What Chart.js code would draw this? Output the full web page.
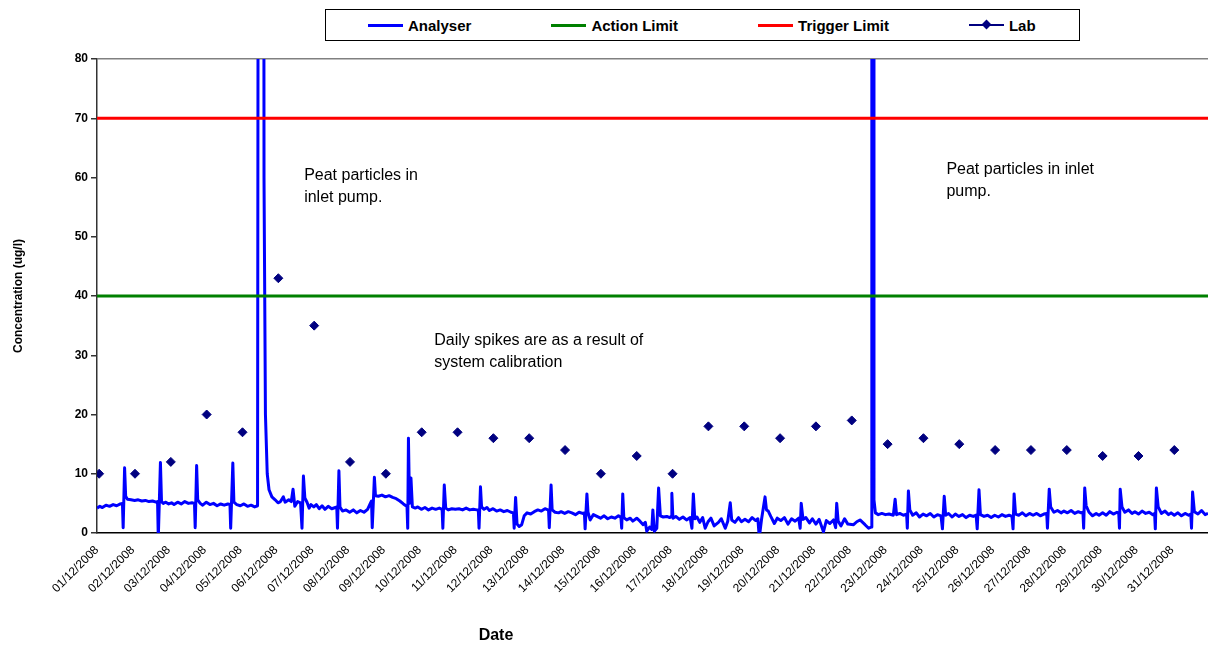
<!DOCTYPE html>
<html lang="en">
  <head>
    <meta charset="UTF-8" />
    <meta name="viewport" content="width=device-width, initial-scale=1.0" />
    <title>Analyser vs Lab - December 2008</title>
    <script src="https://cdn.jsdelivr.net/npm/chart.js@4.4.0/dist/chart.umd.min.js"></script>
    <style>
      body { margin: 0; background: #fff; font-family: "Liberation Sans", Arial, sans-serif; }
      .chart { position: relative; width: 1208px; height: 652px; }
      #legend {
        position: absolute; left: 325px; top: 9px; width: 755px; height: 32px;
        box-sizing: border-box; border: 1px solid #000; background: #fff;
        display: flex; align-items: center; padding-left: 42px;
        font-weight: bold; font-size: 15px; color: #000; white-space: nowrap;
      }
      .item { display: flex; align-items: center; flex-shrink: 0; margin-right: 80px; }
      .item:last-child { margin-right: 0; }
      .swatch { position: relative; width: 35px; height: 3px; margin-right: 5px; flex-shrink: 0; }
      .diamond {
        position: absolute; left: 14px; top: -3px; width: 7px; height: 7px;
        background: #000080; transform: rotate(45deg);
      }
    </style>
  </head>
  <body>
    <div class="chart">
      <canvas id="myChart" width="1208" height="652"></canvas>
      <div id="legend"></div>
    </div>
    <script>
      // x axis: days since 01/12/2008 00:00
      const dateLabels = [
        '01/12/2008', '02/12/2008', '03/12/2008', '04/12/2008', '05/12/2008', '06/12/2008',
        '07/12/2008', '08/12/2008', '09/12/2008', '10/12/2008', '11/12/2008', '12/12/2008',
        '13/12/2008', '14/12/2008', '15/12/2008', '16/12/2008', '17/12/2008', '18/12/2008',
        '19/12/2008', '20/12/2008', '21/12/2008', '22/12/2008', '23/12/2008', '24/12/2008',
        '25/12/2008', '26/12/2008', '27/12/2008', '28/12/2008', '29/12/2008', '30/12/2008',
        '31/12/2008'
      ];

      // one lab sample each morning
      const labValues = [10, 10, 12, 20, 17, 43, 35, 12, 10, 17, 17, 16, 16, 14, 10, 13,
                         10, 18, 18, 16, 18, 19, 15, 16, 15, 14, 14, 14, 13, 13, 14];
      const labSampleTime = 0.06; // fraction of the day

      const actionLimit = 40;
      const triggerLimit = 70;

      // online analyser readings: [day, ug/l]
      const analyser = [
        [0.00, 4.2], [0.08, 4.5], [0.15, 4.3], [0.25, 4.7], [0.35, 4.5], [0.45, 4.8], [0.55, 4.6], [0.65, 4.9],
        [0.71, 5.0], [0.73, 0.9], [0.77, 11.0], [0.80, 6.2], [0.85, 5.7], [0.95, 5.6],
        [1.05, 5.5], [1.15, 5.6], [1.25, 5.4], [1.35, 5.5], [1.45, 5.3], [1.55, 5.4], [1.65, 5.2],
        [1.69, 5.3], [1.71, -0.9], [1.77, 11.9], [1.80, 5.3], [1.85, 5.0], [1.92, 5.2], [2.00, 4.9],
        [2.08, 5.1], [2.15, 4.8], [2.25, 5.2], [2.35, 4.9], [2.45, 5.3], [2.55, 5.0], [2.65, 5.1],
        [2.72, 5.0], [2.74, 0.9], [2.78, 11.4], [2.81, 5.6], [2.88, 5.0], [2.95, 4.7],
        [3.05, 5.2], [3.15, 4.8], [3.25, 5.0], [3.35, 4.6], [3.45, 4.9], [3.55, 4.7], [3.65, 4.9],
        [3.71, 4.8], [3.73, 0.8], [3.79, 11.8], [3.82, 5.2], [3.90, 4.8], [4.00, 4.6],
        [4.10, 4.9], [4.20, 4.5], [4.30, 4.7], [4.40, 4.4], [4.48, 4.6],
        [4.52, 250], [4.64, 250], [4.66, 60], [4.70, 20], [4.75, 10], [4.80, 7.3], [4.88, 6.1], [4.97, 5.6],
        [5.05, 5.1], [5.12, 5.3], [5.20, 6.1], [5.25, 5.2], [5.35, 5.6], [5.42, 5.3], [5.47, 7.4], [5.52, 4.5],
        [5.60, 5.3], [5.68, 5.1], [5.72, 0.8], [5.76, 9.6], [5.80, 5.9], [5.86, 5.2], [5.92, 4.2], [5.97, 4.8],
        [6.05, 4.4], [6.12, 4.8], [6.20, 4.1], [6.28, 4.6], [6.36, 4.0], [6.45, 4.5], [6.55, 4.1], [6.65, 4.3],
        [6.69, 4.4], [6.71, 0.8], [6.75, 10.5], [6.78, 4.4], [6.85, 3.7], [6.95, 3.9],
        [7.05, 3.5], [7.15, 3.9], [7.25, 3.4], [7.35, 3.8], [7.45, 3.5], [7.55, 4.0], [7.62, 4.9],
        [7.66, 5.4], [7.68, 0.9], [7.74, 9.4], [7.77, 6.3], [7.85, 6.2], [7.95, 6.4],
        [8.05, 6.1], [8.15, 6.3], [8.25, 6.0], [8.35, 5.8], [8.45, 5.4], [8.55, 4.9], [8.62, 4.6],
        [8.65, 4.5], [8.67, 0.8], [8.69, 16.0], [8.72, 5.0], [8.76, 9.3], [8.80, 4.4], [8.88, 4.2], [8.95, 4.4],
        [9.05, 4.0], [9.15, 4.3], [9.25, 3.9], [9.35, 4.2], [9.45, 4.0], [9.55, 4.2],
        [9.63, 4.0], [9.65, 0.8], [9.69, 8.1], [9.73, 4.2], [9.80, 3.9], [9.90, 4.1],
        [10.00, 4.0], [10.10, 4.1], [10.20, 3.9], [10.30, 4.2], [10.40, 3.9], [10.50, 4.0], [10.60, 3.9],
        [10.64, 3.9], [10.66, 0.8], [10.70, 7.8], [10.73, 4.4], [10.80, 4.0], [10.88, 4.3], [10.95, 3.8],
        [11.05, 4.1], [11.15, 3.7], [11.25, 3.9], [11.35, 3.6], [11.45, 3.8], [11.55, 3.5],
        [11.62, 3.4], [11.64, 0.8], [11.68, 6.0], [11.72, 1.5], [11.78, 1.1], [11.85, 1.4], [11.92, 2.9],
        [12.00, 3.4], [12.10, 3.2], [12.20, 3.6], [12.30, 3.9], [12.40, 3.7], [12.50, 4.1], [12.58, 3.9],
        [12.60, 3.8], [12.62, 0.9], [12.67, 8.1], [12.70, 3.9], [12.78, 3.5], [12.88, 3.4], [12.95, 3.6],
        [13.05, 3.3], [13.15, 3.6], [13.25, 3.4], [13.35, 3.1], [13.45, 3.5], [13.55, 3.3],
        [13.60, 3.4], [13.62, 0.7], [13.67, 6.6], [13.70, 3.5], [13.76, 2.2], [13.85, 3.1], [13.95, 2.8],
        [14.05, 2.5], [14.15, 2.9], [14.25, 2.4], [14.35, 2.7], [14.45, 2.5], [14.55, 2.9],
        [14.62, 2.6], [14.64, 0.8], [14.67, 6.6], [14.70, 2.6], [14.78, 2.2], [14.88, 2.5], [14.95, 2.0],
        [15.06, 2.5], [15.15, 2.0], [15.24, 1.4], [15.30, 1.8], [15.34, 0.3], [15.42, 1.0], [15.48, 0.6],
        [15.51, 3.9], [15.55, 0.3], [15.62, 0.8], [15.67, 7.6], [15.72, 2.9], [15.80, 2.7], [15.90, 2.8], [15.98, 2.6],
        [16.02, 2.8], [16.04, 6.7], [16.07, 2.5], [16.15, 2.8], [16.25, 2.3], [16.35, 2.7], [16.45, 2.2], [16.55, 2.6],
        [16.60, 0.8], [16.64, 6.6], [16.68, 2.4], [16.74, 2.7], [16.82, 1.8], [16.90, 2.6], [16.97, 0.8],
        [17.05, 1.9], [17.13, 2.5], [17.22, 1.2], [17.34, 1.8], [17.42, 2.4], [17.53, 0.8], [17.60, 2.0],
        [17.67, 5.1], [17.71, 2.2], [17.80, 1.8], [17.90, 2.6], [17.98, 1.9],
        [18.08, 2.3], [18.18, 1.9], [18.28, 2.6], [18.38, 2.1], [18.44, 2.4], [18.48, -0.8], [18.54, 2.2],
        [18.64, 6.1], [18.68, 3.9], [18.73, 3.7], [18.80, 2.8], [18.90, 1.6], [18.98, 2.5],
        [19.08, 2.1], [19.18, 2.6], [19.28, 1.5], [19.38, 2.4], [19.48, 2.0], [19.58, 2.5],
        [19.62, 0.8], [19.65, 5.0], [19.70, 2.3], [19.78, 2.6], [19.88, 1.7], [19.96, 2.4],
        [20.06, 1.5], [20.15, 2.3], [20.27, 0.2], [20.35, 2.1], [20.45, 1.6], [20.55, 2.2],
        [20.61, 0.9], [20.64, 5.0], [20.68, 2.0], [20.76, 1.2], [20.86, 2.4], [20.95, 1.5],
        [21.11, 1.4], [21.20, 1.9], [21.29, 2.2], [21.43, 1.4], [21.53, 0.8], [21.60, 1.0],
        [21.62, 250], [21.66, 250], [21.68, 5.6], [21.72, 3.4], [21.80, 3.1], [21.90, 3.3], [22.00, 3.1],
        [22.10, 3.2], [22.22, 3.0], [22.27, 5.7], [22.31, 3.1], [22.40, 3.3], [22.50, 3.0],
        [22.59, 3.2], [22.61, 0.8], [22.64, 7.1], [22.68, 3.9], [22.76, 3.0], [22.86, 3.4], [22.95, 2.7],
        [23.05, 3.2], [23.15, 2.9], [23.25, 3.3], [23.35, 2.7], [23.45, 3.1], [23.55, 2.9],
        [23.59, 0.7], [23.64, 6.2], [23.68, 3.0], [23.76, 3.3], [23.86, 2.7], [23.95, 3.2],
        [24.05, 2.8], [24.15, 3.1], [24.25, 2.6], [24.35, 3.0], [24.45, 2.8], [24.53, 3.0],
        [24.56, 0.7], [24.61, 7.3], [24.65, 3.1], [24.75, 2.8], [24.85, 3.0], [24.95, 2.6],
        [25.05, 3.0], [25.15, 2.7], [25.25, 3.1], [25.35, 2.8], [25.45, 3.0], [25.53, 2.8],
        [25.56, 0.7], [25.59, 6.6], [25.63, 3.2], [25.72, 3.0], [25.82, 3.4], [25.92, 2.9],
        [26.02, 3.3], [26.12, 3.0], [26.22, 3.3], [26.32, 2.9], [26.42, 3.2], [26.50, 3.3],
        [26.52, 0.8], [26.57, 7.4], [26.61, 4.4], [26.70, 3.5], [26.80, 3.8], [26.90, 3.4], [26.98, 3.7],
        [27.08, 3.4], [27.18, 3.8], [27.28, 3.3], [27.38, 3.6], [27.46, 3.4], [27.51, 3.5],
        [27.53, 0.8], [27.56, 7.6], [27.60, 4.6], [27.68, 3.5], [27.78, 2.9], [27.88, 3.3], [27.96, 3.0],
        [28.06, 3.4], [28.16, 3.0], [28.26, 3.6], [28.36, 3.2], [28.46, 3.5], [28.51, 3.3],
        [28.53, 0.8], [28.55, 7.4], [28.60, 4.4], [28.68, 3.5], [28.78, 3.9], [28.88, 3.3], [28.96, 3.6],
        [29.06, 3.2], [29.16, 3.7], [29.26, 3.3], [29.36, 3.5], [29.46, 3.1], [29.51, 3.3],
        [29.53, 0.7], [29.56, 7.6], [29.61, 4.4], [29.70, 3.3], [29.80, 3.7], [29.90, 3.1], [29.97, 3.4],
        [30.06, 3.0], [30.16, 3.4], [30.26, 2.9], [30.36, 3.3], [30.46, 3.0], [30.52, 3.2],
        [30.54, 0.8], [30.57, 6.9], [30.62, 3.6], [30.72, 3.2], [30.82, 3.8], [30.92, 3.1], [31.00, 3.3]
      ];

      // text notes placed in data coordinates (left edge, first line)
      const notes = [
        { day: 5.78, value: 60.3, lines: ['Peat particles in', 'inlet pump.'] },
        { day: 23.70, value: 61.3, lines: ['Peat particles in inlet', 'pump.'] },
        { day: 9.41, value: 32.4, lines: ['Daily spikes are as a result of', 'system calibration'] }
      ];

      const FONT = '"Liberation Sans", Arial, sans-serif';
      const lastDay = dateLabels.length;

      const notesPlugin = {
        id: 'notes',
        afterDraw(chart) {
          const { ctx, scales: { x, y } } = chart;
          ctx.save();
          ctx.fillStyle = '#000';
          ctx.textBaseline = 'middle';
          ctx.textAlign = 'left';
          ctx.font = '16px ' + FONT;
          notes.forEach(n => {
            const px = x.getPixelForValue(n.day);
            const py = y.getPixelForValue(n.value);
            n.lines.forEach((line, i) => ctx.fillText(line, px, py + i * 22));
          });
          // x axis title, Excel places it left of centre
          ctx.font = 'bold 16px ' + FONT;
          ctx.textAlign = 'center';
          ctx.fillText('Date', 496, 636);
          ctx.restore();
        }
      };

      const series = [
        {
          label: 'Lab',
          data: labValues.map((v, i) => ({ x: i + labSampleTime, y: v })),
          showLine: false,
          pointStyle: 'rectRot',
          pointRadius: 4.5,
          pointBorderWidth: 1,
          pointBackgroundColor: '#000080',
          pointBorderColor: '#000080',
          borderColor: '#000080',
          borderWidth: 1.5
        },
        {
          label: 'Trigger Limit',
          data: [{ x: 0, y: triggerLimit }, { x: lastDay, y: triggerLimit }],
          borderColor: '#FF0000',
          borderWidth: 3,
          pointRadius: 0
        },
        {
          label: 'Action Limit',
          data: [{ x: 0, y: actionLimit }, { x: lastDay, y: actionLimit }],
          borderColor: '#008000',
          borderWidth: 3,
          pointRadius: 0
        },
        {
          label: 'Analyser',
          data: analyser.map(p => ({ x: p[0], y: p[1] })),
          borderColor: '#0000FF',
          borderWidth: 3,
          pointRadius: 0,
          borderJoinStyle: 'round'
        }
      ];

      // legend box like the Excel one
      const legendOrder = ['Analyser', 'Action Limit', 'Trigger Limit', 'Lab'];
      const legend = document.getElementById('legend');
      legendOrder.forEach(name => {
        const ds = series.find(s => s.label === name);
        const item = document.createElement('div');
        item.className = 'item';
        const sw = document.createElement('span');
        sw.className = 'swatch';
        sw.style.background = ds.borderColor;
        if (name === 'Lab') {
          sw.style.height = '1.5px';
          const d = document.createElement('span');
          d.className = 'diamond';
          sw.appendChild(d);
        }
        const txt = document.createElement('span');
        txt.textContent = name;
        item.appendChild(sw);
        item.appendChild(txt);
        legend.appendChild(item);
      });

      const ctx = document.getElementById('myChart').getContext('2d');
      const myChart = new Chart(ctx, {
        type: 'line',
        data: { datasets: series },
        options: {
          responsive: false,
          animation: false,
          layout: { autoPadding: false, padding: { top: 59, right: 0, bottom: 0, left: 0 } },
          plugins: {
            legend: { display: false },
            tooltip: { enabled: false }
          },
          scales: {
            x: {
              type: 'linear',
              min: 0,
              max: lastDay,
              offset: false,
              grid: { display: false },
              border: { display: true, color: '#000', width: 1.5 },
              ticks: {
                stepSize: 1,
                autoSkip: false,
                minRotation: 45,
                maxRotation: 45,
                padding: 2,
                color: '#000',
                font: { family: FONT, size: 12 },
                callback: v => dateLabels[v] ?? ''
              },
              afterFit: s => {
                s.height = 119;
                s.paddingLeft = 0;
                s.paddingRight = 0;
              }
            },
            y: {
              min: 0,
              max: 80,
              grid: {
                drawOnChartArea: true,
                color: c => (c.tick && c.tick.value === 80 ? '#808080' : 'rgba(0,0,0,0)'),
                tickColor: '#333',
                tickLength: 6,
                lineWidth: 1.5
              },
              border: { display: true, color: '#333', width: 1.5 },
              ticks: {
                stepSize: 10,
                padding: 3,
                color: '#000',
                font: { family: FONT, size: 12, weight: 'bold' }
              },
              title: {
                display: true,
                text: 'Concentration (ug/l)',
                color: '#000',
                font: { family: FONT, size: 12, weight: 'bold' },
                padding: { top: 11, bottom: 0 }
              },
              afterFit: s => { s.width = 97; }
            }
          }
        },
        plugins: [notesPlugin]
      });
    </script>
  </body>
</html>
